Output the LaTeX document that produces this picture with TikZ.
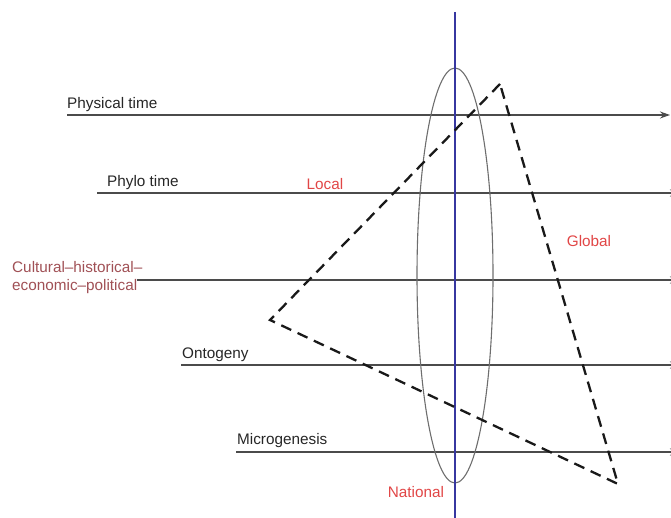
\documentclass[tikz,border=0pt]{standalone}
\usepackage{fontspec}
\setmainfont{Liberation Sans}
\usetikzlibrary{arrows.meta,shapes.geometric}
\definecolor{axisgray}{RGB}{75,75,75}
\definecolor{lensgray}{RGB}{110,110,110}
\definecolor{bluel}{RGB}{55,55,160}
\definecolor{redl}{RGB}{225,70,70}
\definecolor{brownl}{RGB}{160,80,85}
\tikzset{
  axis/.style={draw=axisgray, line width=1.3pt},
  axisarrow/.style={axis, -{Stealth[length=10pt,width=7pt]}},
  lbl/.style={font=\fontsize{15.3}{18}\selectfont, text=black!85, inner sep=0pt, anchor=base west},
  redlbl/.style={font=\fontsize{15.3}{18}\selectfont, text=redl, inner sep=0pt},
  tri/.style={draw=black!90, line width=2.3pt, dash pattern=on 11pt off 7pt},
  lensstyle/.style={draw=lensgray, line width=1.1pt, ellipse, inner sep=0pt, minimum width=76pt, minimum height=415pt}
}
\begin{document}
\begin{tikzpicture}[x=1pt,y=-1pt]
\useasboundingbox (0,0) rectangle (671,518);
% axes
\coordinate (p0) at (67,115);  \coordinate (p1) at (670,115);
\coordinate (f0) at (97,193);  \coordinate (f1) at (680,193);
\coordinate (c0) at (137,280); \coordinate (c1) at (680,280);
\coordinate (o0) at (181,365); \coordinate (o1) at (680,365);
\coordinate (m0) at (236,452); \coordinate (m1) at (680,452);
\draw[axisarrow] (p0) -- (p1);
\draw[axisarrow] (f0) -- (f1);
\draw[axisarrow] (c0) -- (c1);
\draw[axisarrow] (o0) -- (o1);
\draw[axisarrow] (m0) -- (m1);
\node[lbl] (lphys) at (67,109) {Physical time};
\node[lbl] (lphylo) at (107,187) {Phylo time};
\node[font=\fontsize{15.3}{18}\selectfont, text=brownl, inner sep=0pt, align=left, anchor=north west] (lcult) at (12,261) {Cultural–historical–\\economic–political};
\node[lbl] (lonto) at (182,358) {Ontogeny};
\node[lbl] (lmicro) at (237,444) {Microgenesis};
% lens
\node[lensstyle] (lens) at (455,275.5) {};
% blue axis
\coordinate (bt) at (455,12); \coordinate (bb) at (455,520);
\draw[bluel, line width=2pt] (bt) -- (bb);
% triangle
\coordinate (tA) at (500,84);
\coordinate (tB) at (270,320);
\coordinate (tC) at (618,484);
\draw[tri] (tA) -- (tB) -- (tC) -- cycle;
% labels
\node[redlbl] (local) at (325,184) {Local};
\node[redlbl] (global) at (589,241) {Global};
\node[redlbl] (national) at (416,492) {National};
\end{tikzpicture}
\end{document}
